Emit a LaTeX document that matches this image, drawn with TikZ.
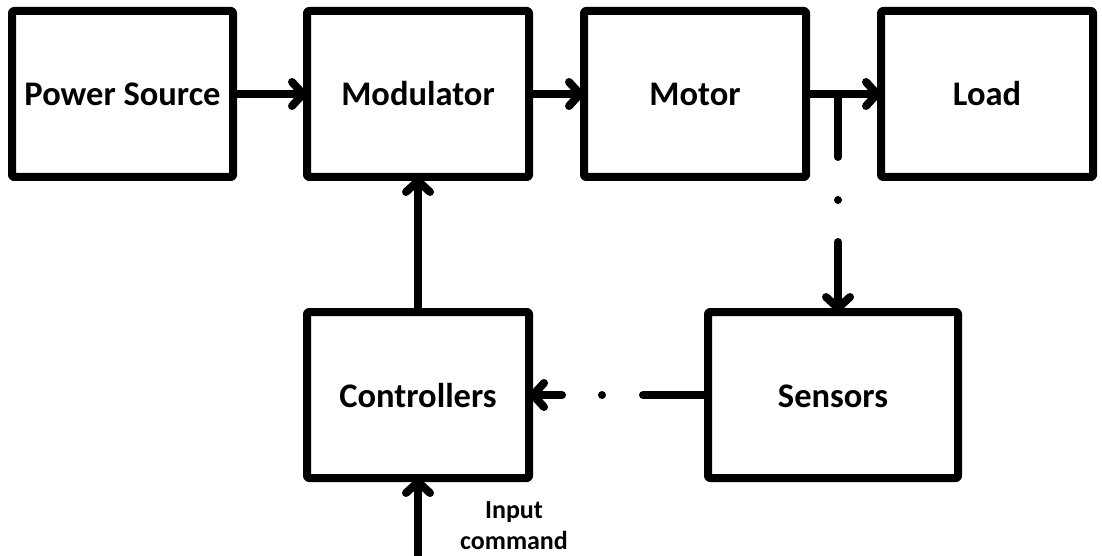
\documentclass[tikz,border=0pt]{standalone}
\usepackage{fontspec}
\setmainfont{Carlito}
\usetikzlibrary{arrows.meta}
\begin{document}
\begin{tikzpicture}[x=1pt,y=-1pt,
  blk/.style={draw=black,line width=8pt,line join=round,rounded corners=2pt,fill=white,
    minimum height=166pt,outer sep=0pt,inner sep=0pt,text height=26pt,text depth=2pt,
    font=\fontsize{34.5}{40}\selectfont\bfseries},
  conn/.style={line width=8pt,line cap=round,-{Straight Barb[length=11pt,width=24pt,round]}},
  lbl/.style={font=\fontsize{26}{31}\selectfont\bfseries,align=center,inner sep=0pt}]
\useasboundingbox (0,0) rectangle (1102,556);
\node[blk,minimum width=221pt] (ps) at (122.5,94) {Power Source};
\node[blk,minimum width=222pt] (mod) at (418,94) {Modulator};
\node[blk,minimum width=222pt] (mot) at (695,94) {Motor};
\node[blk,minimum width=212pt] (load) at (987,94) {Load};
\node[blk,minimum width=222pt] (ctrl) at (418,395) {Controllers};
\node[blk,minimum width=250pt] (sen) at (833,395) {Sensors};
\coordinate (tap) at (838,94);
\coordinate (inp) at (418,560);
\node[lbl] (cmd) at (514,526) {Input\\command};
\draw[conn] (ps.east) -- (mod.west);
\draw[conn] (mod.east) -- (mot.west);
\draw[conn] (mot.east) -- (load.west);
\draw[conn] (ctrl.north) -- (mod.south);
\draw[conn,line cap=butt] (inp) -- (ctrl.south);
\draw[conn,dash pattern=on 63pt off 43pt on 0pt off 42pt on 200pt] (tap) -- (tap |- sen.north);
\draw[conn,dash pattern=on 65pt off 41pt on 0pt off 40pt on 200pt] (sen.west) -- (ctrl.east);
\end{tikzpicture}
\end{document}
